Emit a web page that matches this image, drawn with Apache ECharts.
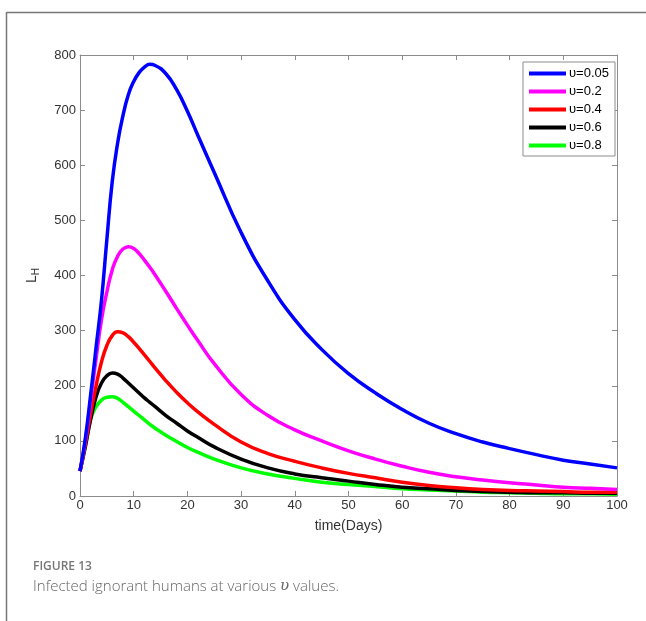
<!DOCTYPE html>
<html>
<head>
<meta charset="utf-8">
<script src="https://cdn.jsdelivr.net/npm/echarts@6/dist/echarts.min.js"></script>
<style>
  html, body { margin: 0; padding: 0; background: #fff; }
  #chart { width: 646px; height: 621px; }
</style>
</head>
<body>
<div id="chart"></div>
<script>
// time (days)
const days = [0, 1, 2, 3, 4, 5, 6, 7, 8, 9, 10, 11, 12, 13, 14, 16, 18, 20, 22, 25, 30, 35, 40, 45, 50, 55, 60, 65, 70, 75, 80, 85, 90, 95, 100];

// L_H for each upsilon value
const lh005 = [45, 105, 185, 270, 355, 465, 570, 640, 690, 728, 752, 768, 778, 783, 781, 766, 737, 698, 653, 587, 478, 390, 320, 266, 222, 187, 157, 132, 113, 98, 86, 75, 65, 58, 51];
const lh02  = [45, 100, 175, 250, 320, 370, 410, 435, 448, 452, 449, 440, 428, 415, 401, 371, 340, 310, 281, 240, 184, 146, 120, 100, 82, 67, 54, 43, 35, 29, 24, 20, 16, 14, 12];
const lh04  = [45, 95, 150, 200, 243, 273, 291, 298, 296, 289, 279, 268, 256, 244, 232, 209, 188, 169, 152, 130, 98, 77, 63, 51, 41, 33, 25, 19, 15, 12, 10, 9, 8, 7, 7];
const lh06  = [45, 90, 140, 180, 205, 218, 223, 221, 214, 205, 196, 187, 178, 170, 162, 146, 132, 118, 106, 89, 67, 51, 40, 33, 27, 21, 16, 13, 10, 8, 7, 6, 6, 5, 5];
const lh08  = [45, 90, 140, 162, 174, 179, 180, 177, 170, 162, 154, 146, 138, 130, 123, 110, 99, 88, 79, 67, 51, 40, 32, 25, 21, 17, 13, 11, 9, 7, 6, 5, 4, 4, 3];

const names = ['υ=0.05', 'υ=0.2', 'υ=0.4', 'υ=0.6', 'υ=0.8'];
const colors = ['#0000ff', '#ff00ff', '#ff0000', '#000000', '#00ff00'];
const allSeries = [lh005, lh02, lh04, lh06, lh08];

const font = 'Arial, "Liberation Sans", sans-serif';
const axisGray = '#8c8c8c';

let chart = echarts.init(document.getElementById('chart'));

function pairs(vals) {
  return days.map((d, i) => [d, vals[i]]);
}

const tickStyle = { show: true, inside: true, length: 5, lineStyle: { color: axisGray } };
const lineStyle = { onZero: false, lineStyle: { color: axisGray, width: 1 } };

let option = {
  animation: false,
  backgroundColor: '#fff',
  grid: { left: 80, right: 29, top: 55, bottom: 125 },
  legend: {
    orient: 'vertical',
    right: 31,
    top: 62,
    padding: [5, 6, 4, 6],
    icon: 'rect',
    itemWidth: 37,
    itemHeight: 4,
    itemGap: 5,
    borderColor: axisGray,
    borderWidth: 1,
    backgroundColor: '#fff',
    textStyle: { fontFamily: font, fontSize: 13, color: '#000', padding: [0, 0, 0, -2] },
    data: names
  },
  xAxis: [{
    type: 'value',
    min: 0, max: 100, interval: 10,
    name: 'time(Days)',
    nameLocation: 'middle',
    nameGap: 23,
    nameTextStyle: { fontFamily: font, fontSize: 14, color: '#333' },
    axisLine: lineStyle,
    axisTick: tickStyle,
    axisLabel: { fontFamily: font, fontSize: 13, color: '#333', margin: 3 },
    splitLine: { show: false }
  }, {
    type: 'value',
    position: 'top',
    min: 0, max: 100, interval: 10,
    axisLine: lineStyle,
    axisTick: tickStyle,
    axisLabel: { show: false },
    splitLine: { show: false }
  }],
  yAxis: [{
    type: 'value',
    min: 0, max: 800, interval: 100,
    name: '{l|L}{h|H}',
    nameLocation: 'middle',
    nameRotate: 90,
    nameGap: 36,
    nameTextStyle: {
      rich: {
        l: { fontFamily: font, fontSize: 14, color: '#333', lineHeight: 22, verticalAlign: 'middle' },
        h: { fontFamily: font, fontSize: 10, color: '#333', lineHeight: 22, verticalAlign: 'bottom', padding: [0, 0, 2, 0] }
      }
    },
    axisLine: lineStyle,
    axisTick: tickStyle,
    axisLabel: { fontFamily: font, fontSize: 13, color: '#333', margin: 4 },
    splitLine: { show: false }
  }, {
    type: 'value',
    position: 'right',
    min: 0, max: 800, interval: 100,
    axisLine: lineStyle,
    axisTick: tickStyle,
    axisLabel: { show: false },
    splitLine: { show: false }
  }],
  series: allSeries.map((vals, i) => ({
    name: names[i],
    type: 'line',
    smooth: 0.5,
    symbol: 'none',
    data: pairs(vals),
    itemStyle: { color: colors[i] },
    lineStyle: { color: colors[i], width: 3.5 },
    z: 10 - i
  })),
  graphic: [
    { type: 'line', shape: { x1: 6.5, y1: 12.5, x2: 646, y2: 12.5 }, style: { stroke: '#777', lineWidth: 1.5 } },
    { type: 'line', shape: { x1: 6.5, y1: 12, x2: 6.5, y2: 621 }, style: { stroke: '#777', lineWidth: 1.5 } },
    {
      type: 'text', left: 33, top: 561,
      style: { text: 'FIGURE 13', font: '600 12px "Open Sans", sans-serif', fill: '#777' }
    },
    {
      type: 'text', left: 33, top: 579,
      style: {
        text: '{a|Infected ignorant humans at various }{u|υ}{a| values.}',
        rich: {
          a: { fontFamily: '"Open Sans", sans-serif', fontSize: 15, fontWeight: 300, fill: '#666' },
          u: { fontFamily: '"DejaVu Serif", serif', fontStyle: 'italic', fontSize: 15, fill: '#666' }
        }
      }
    }
  ]
};

chart.setOption(option);
</script>
</body>
</html>
